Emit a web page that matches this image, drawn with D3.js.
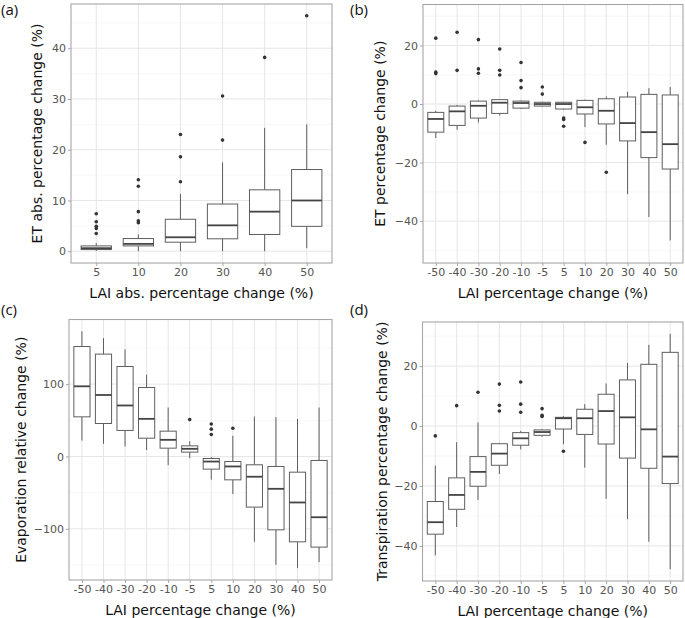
<!DOCTYPE html>
<html>
<head>
<meta charset="utf-8">
<script src="https://cdn.jsdelivr.net/npm/d3@7"></script>
<style>
  html, body { margin: 0; padding: 0; background: #fff; }
  svg { display: block; }
</style>
</head>
<body>
<svg id="chart" width="685" height="618"></svg>
<script>
// ---------- DATA ----------
const catsA = ["5", "10", "20", "30", "40", "50"];
const catsBCD = ["-50", "-40", "-30", "-20", "-10", "-5", "5", "10", "20", "30", "40", "50"];

// Panel (a): ET abs. percentage change
const aLow  = [0.05, 0, 0, 0, 0, 0.6];
const aQ1   = [0.33, 1.05, 1.78, 2.45, 3.3, 4.9];
const aMed  = [0.6, 1.45, 2.75, 5.1, 7.8, 10];
const aQ3   = [1.05, 2.5, 6.3, 9.3, 12.1, 16.1];
const aHigh = [1.6, 3.3, 11.3, 17.5, 24.3, 25];
const aOut  = [[7.4, 5.8, 4.9, 4.5, 3.5], [14.1, 12.8, 7.8, 6.0, 5.6], [23.0, 18.6, 13.7], [30.6, 21.9], [38.2], [46.4]];
const aTicks = [0, 10, 20, 30, 40];

// Panel (b): ET percentage change
const bLow  = [-11.6, -8.8, -6.3, -3.9, -1.7, -0.9, -1.9, -7.9, -13.9, -30.8, -38.6, -46.6];
const bQ1   = [-9.6, -7.3, -4.8, -3.2, -1.4, -0.7, -1.7, -3.4, -6.8, -12.6, -18.3, -22.2];
const bMed  = [-5.1, -2.5, -0.6, 0.45, 0.35, 0, 0, -1.1, -2.3, -6.5, -9.6, -13.7];
const bQ3   = [-2.85, -0.7, 1, 1.5, 1, 0.6, 0.6, 1.25, 1.8, 2.4, 3.3, 3.1];
const bHigh = [-2.3, -0.3, 1.25, 1.7, 1.2, 0.8, 0.6, 1.5, 2.6, 4.2, 5.4, 5.8];
const bOut  = [[22.5, 10.9, 10.4], [24.5, 11.5], [22, 12, 10.5], [18.8, 11.5, 9.9], [14.2, 8, 5.6], [5.8, 3.4], [-4.8, -5.3, -7.6], [-13.1], [-23.3], [], [], []];
const bTicks = [-40, -20, 0, 20];
const bDomain = [-54.3, 34.0];

// Panel (c): Evaporation relative change
const cLow  = [22, 17.5, 13.8, 8.8, -12, -2.3, -32, -52, -118, -149.8, -154.4, -146];
const cQ1   = [54.8, 45.6, 36, 25.3, 11.5, 6, -17.5, -32.3, -70, -101.4, -118, -125.3];
const cMed  = [97, 85, 70.5, 52, 23, 10.6, -7, -13.8, -28, -44.7, -63.6, -84];
const cQ3   = [152, 141.5, 124.4, 95.4, 35, 14.7, -2.8, -7, -11.5, -13.8, -21.7, -5.5];
const cHigh = [173, 163.6, 148, 113, 67.7, 21.2, -1, 28.6, 55.3, 54.4, 52, 67.7];
const cOut  = [[], [], [], [], [], [51], [45, 37.8, 30.4], [39], [], [], [], []];
const cTicks = [-100, 0, 100];

// Panel (d): Transpiration percentage change
const dLow  = [-43.2, -33.7, -24.7, -16, -7.8, -3.6, -6.1, -13.9, -24.3, -31.1, -38.6, -47.8];
const dQ1   = [-36.1, -27.8, -20.1, -13.1, -6.4, -3.1, -1, -2.8, -6, -10.7, -14.1, -19.2];
const dMed  = [-32.1, -23, -15.3, -9.2, -4.1, -2, 2.6, 2.6, 5, 2.9, -1.1, -10.2];
const dQ3   = [-25.2, -17.3, -10.2, -5.9, -2.2, -1.3, 2.9, 5.6, 10.6, 15.4, 20.6, 24.6];
const dHigh = [-13.2, -5.4, 1.2, -5.6, -1.6, -1.1, 3.3, 7.3, 14.2, 21.1, 27.1, 30.8];
const dOut  = [[-3.3], [6.8], [11.3], [14, 6.9, 5], [14.7, 7.3, 4.6], [5.8, 3.6, 3.2], [-8.4], [], [], [], [], []];
const dTicks = [-40, -20, 0, 20];

// ---------- DRAWING ----------
const svg = d3.select("#chart");
const FONT = "'DejaVu Sans', sans-serif";

function panel(opt) {
  const { cats, low, q1, med, q3, high, out, ticks, domain, box, tag, tagPos, ytitle, ytitleX, xtitle, boxW } = opt;
  const [x0, y0, x1, y1] = box;
  const g = svg.append("g");

  let dom = domain;
  if (!dom) {
    const all = [].concat(low, high, ...out);
    const mn = d3.min(all), mx = d3.max(all);
    const pad = (mx - mn) * 0.05;
    dom = [mn - pad, mx + pad];
  }
  const x = d3.scalePoint().domain(cats).range([x0, x1]).padding(0.6);
  const y = d3.scaleLinear().domain(dom).range([y1, y0]);
  const step = x.step();
  const bw = step * boxW;

  // minor grid
  const major = ticks;
  const minor = [];
  const dt = major[1] - major[0];
  for (let v = major[0] - dt / 2; v <= dom[1]; v += dt) {
    if (v >= dom[0]) minor.push(v);
  }
  g.selectAll(".minor").data(minor).enter().append("line")
    .attr("x1", x0).attr("x2", x1)
    .attr("y1", d => y(d)).attr("y2", d => y(d))
    .attr("stroke", "#f2f2f2").attr("stroke-width", 0.6);
  g.selectAll(".major").data(major).enter().append("line")
    .attr("x1", x0).attr("x2", x1)
    .attr("y1", d => y(d)).attr("y2", d => y(d))
    .attr("stroke", "#e6e6e6").attr("stroke-width", 1);
  g.selectAll(".vgrid").data(cats).enter().append("line")
    .attr("x1", d => x(d)).attr("x2", d => x(d))
    .attr("y1", y0).attr("y2", y1)
    .attr("stroke", "#e6e6e6").attr("stroke-width", 1);

  // boxes
  const idx = d3.range(cats.length);
  const bx = g.selectAll(".bx").data(idx).enter().append("g");
  bx.append("line")
    .attr("x1", i => x(cats[i])).attr("x2", i => x(cats[i]))
    .attr("y1", i => y(q3[i])).attr("y2", i => y(high[i]))
    .attr("stroke", "#5e5e5e").attr("stroke-width", 1);
  bx.append("line")
    .attr("x1", i => x(cats[i])).attr("x2", i => x(cats[i]))
    .attr("y1", i => y(q1[i])).attr("y2", i => y(low[i]))
    .attr("stroke", "#5e5e5e").attr("stroke-width", 1);
  bx.append("rect")
    .attr("x", i => x(cats[i]) - bw / 2).attr("width", bw)
    .attr("y", i => y(q3[i])).attr("height", i => Math.max(0.5, y(q1[i]) - y(q3[i])))
    .attr("fill", "#fff").attr("stroke", "#5e5e5e").attr("stroke-width", 1);
  bx.append("line")
    .attr("x1", i => x(cats[i]) - bw / 2).attr("x2", i => x(cats[i]) + bw / 2)
    .attr("y1", i => y(med[i])).attr("y2", i => y(med[i]))
    .attr("stroke", "#444").attr("stroke-width", 1.8);
  // outliers
  const pts = [];
  out.forEach((arr, i) => arr.forEach(v => pts.push([cats[i], v])));
  g.selectAll(".pt").data(pts).enter().append("circle")
    .attr("cx", d => x(d[0])).attr("cy", d => y(d[1]))
    .attr("r", 1.8).attr("fill", "#333");

  // border
  g.append("rect").attr("x", x0).attr("y", y0)
    .attr("width", x1 - x0).attr("height", y1 - y0)
    .attr("fill", "none").attr("stroke", "#a6a6a6").attr("stroke-width", 1.1);

  // axes
  const xa = g.append("g").attr("transform", `translate(0,${y1})`)
    .call(d3.axisBottom(x).tickSizeInner(3).tickSizeOuter(0).tickPadding(2));
  const ya = g.append("g").attr("transform", `translate(${x0},0)`)
    .call(d3.axisLeft(y).tickValues(ticks).tickSizeInner(3).tickSizeOuter(0).tickPadding(2)
      .tickFormat(d => d < 0 ? "\u2212" + Math.abs(d) : d));
  [xa, ya].forEach(a => {
    a.select(".domain").remove();
    a.selectAll("line").attr("stroke", "#a6a6a6");
    a.selectAll("text").attr("fill", "#555").style("font-family", FONT).style("font-size", "11px");
  });

  // titles
  svg.append("text").attr("x", (x0 + x1) / 2).attr("y", y1 + 35)
    .attr("text-anchor", "middle").style("font-family", FONT).style("font-size", "14px")
    .attr("fill", "#111").text(xtitle);
  svg.append("text")
    .attr("transform", `translate(${ytitleX},${(y0 + y1) / 2}) rotate(-90)`)
    .attr("text-anchor", "middle").attr("dominant-baseline", "central")
    .style("font-family", FONT).style("font-size", "14px")
    .attr("fill", "#111").text(ytitle);
  svg.append("text").attr("x", tagPos[0]).attr("y", tagPos[1])
    .style("font-family", "'Open Sans', sans-serif").style("font-size", "15px")
    .attr("fill", "#111").text(tag);
}

panel({ cats: catsA, low: aLow, q1: aQ1, med: aMed, q3: aQ3, high: aHigh, out: aOut,
  ticks: aTicks, domain: null, box: [71, 4, 332, 263], boxW: 0.72,
  tag: "(a)", tagPos: [1, 15], ytitle: "ET abs. percentage change (%)", ytitleX: 37,
  xtitle: "LAI abs. percentage change (%)" });

panel({ cats: catsBCD, low: bLow, q1: bQ1, med: bMed, q3: bQ3, high: bHigh, out: bOut,
  ticks: bTicks, domain: bDomain, box: [423, 4.5, 683, 263], boxW: 0.75,
  tag: "(b)", tagPos: [350, 15], ytitle: "ET percentage change (%)", ytitleX: 380,
  xtitle: "LAI percentage change (%)" });

panel({ cats: catsBCD, low: cLow, q1: cQ1, med: cMed, q3: cQ3, high: cHigh, out: cOut,
  ticks: cTicks, domain: null, box: [69, 319.5, 332, 580], boxW: 0.75,
  tag: "(c)", tagPos: [1, 315], ytitle: "Evaporation relative change (%)", ytitleX: 21,
  xtitle: "LAI percentage change (%)" });

panel({ cats: catsBCD, low: dLow, q1: dQ1, med: dMed, q3: dQ3, high: dHigh, out: dOut,
  ticks: dTicks, domain: null, box: [422.5, 322, 683, 581], boxW: 0.75,
  tag: "(d)", tagPos: [350, 315], ytitle: "Transpiration percentage change (%)", ytitleX: 382,
  xtitle: "LAI percentage change (%)" });
</script>
</body>
</html>
